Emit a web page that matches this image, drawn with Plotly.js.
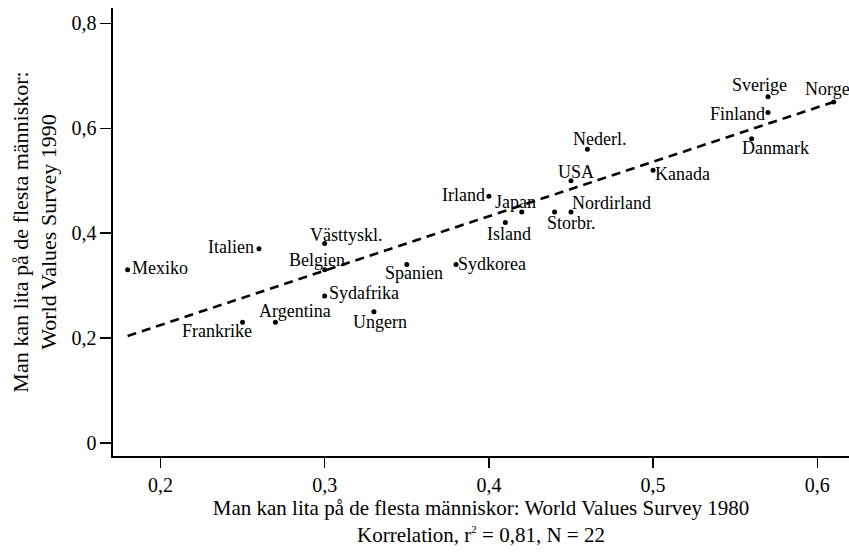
<!DOCTYPE html>
<html>
<head>
<meta charset="utf-8">
<script src="https://cdn.plot.ly/plotly-3.0.1.min.js"></script>
<style>html,body{margin:0;padding:0;background:#fff;}#chart{width:849px;height:556px;}</style>
</head>
<body>
<div id="chart"></div>
<script>
const countries = ["Mexiko","Italien","Västtyskl.","Belgien","Sydafrika","Argentina","Frankrike","Ungern","Spanien","Sydkorea","Island","Japan","Irland","Storbr.","Nordirland","USA","Kanada","Nederl.","Danmark","Finland","Sverige","Norge"];
const trust1980 = [0.18,0.26,0.30,0.30,0.30,0.27,0.25,0.33,0.35,0.38,0.41,0.42,0.40,0.44,0.45,0.45,0.50,0.46,0.56,0.57,0.57,0.61];
const trust1990 = [0.33,0.37,0.38,0.33,0.28,0.23,0.23,0.25,0.34,0.34,0.42,0.44,0.47,0.44,0.44,0.50,0.52,0.56,0.58,0.63,0.66,0.65];
// label offsets from each point in pixels (style only): right / down
const labelDX = [32,-28,22,-8,39,20,-26,6,7,36,4,-6,-25,17,41,5,29,12,24,-31,-9,-6];
const labelDY = [-2,-2,-9,-10,-3,-11,9,10,8,-1,11,-10,-1,11,-9,-9,4,-10,9,2,-12,-13];
const trendX = [0.18, 0.61];
const trendY = [0.204, 0.650];
const xTickVals = [0.2,0.3,0.4,0.5,0.6];
const xTickText = ["0,2","0,3","0,4","0,5","0,6"];
const yTickVals = [0,0.2,0.4,0.6,0.8];
const yTickText = ["0","0,2","0,4","0,6","0,8"];

const FONT = "Liberation Serif, Times New Roman, serif";

const traces = [
  {
    x: trendX, y: trendY, mode: "lines", type: "scatter",
    line: {color: "#000", width: 2.6, dash: "9px,6px"},
    hoverinfo: "skip", showlegend: false
  },
  {
    x: trust1980, y: trust1990, mode: "markers", type: "scatter",
    marker: {color: "#000", size: 5},
    cliponaxis: false, hoverinfo: "skip", showlegend: false
  }
];

const annotations = countries.map((c, i) => ({
  x: trust1980[i], y: trust1990[i], xref: "x", yref: "y",
  text: c, showarrow: false,
  xanchor: "center", yanchor: "middle",
  xshift: labelDX[i], yshift: -labelDY[i],
  font: {family: FONT, size: 18, color: "#000"}
}));

const layout = {
  width: 849, height: 556,
  margin: {l: 113, r: 0, t: 8, b: 100, pad: 0},
  paper_bgcolor: "#fff", plot_bgcolor: "#fff",
  font: {family: FONT, size: 18, color: "#000"},
  showlegend: false,
  annotations: annotations,
  xaxis: {
    range: [0.1711, 0.6193],
    tickvals: xTickVals, ticktext: xTickText,
    ticks: "outside", ticklen: 10, tickwidth: 1.3, tickcolor: "#000",
    showline: true, linecolor: "#000", linewidth: 1.6,
    showgrid: false, zeroline: false,
    tickfont: {family: FONT, size: 20, color: "#000"},
    title: {text: "Man kan lita på de flesta människor: World Values Survey 1980<br>Korrelation, r<sup><span style='font-size:11px'>2</span></sup> = 0,81, N = 22",
            font: {family: FONT, size: 21, color: "#000"}, standoff: 4}
  },
  yaxis: {
    range: [-0.0248, 0.829],
    tickvals: yTickVals, ticktext: yTickText,
    ticks: "outside", ticklen: 11, tickwidth: 1.3, tickcolor: "#000",
    showline: true, linecolor: "#000", linewidth: 1.6,
    showgrid: false, zeroline: false,
    tickfont: {family: FONT, size: 20, color: "#000"},
    title: {text: "Man kan lita på de flesta människor:<br>World Values Survey 1990",
            font: {family: FONT, size: 22, color: "#000"}, standoff: 8}
  }
};

Plotly.newPlot("chart", traces, layout, {staticPlot: true, displayModeBar: false});
</script>
</body>
</html>
